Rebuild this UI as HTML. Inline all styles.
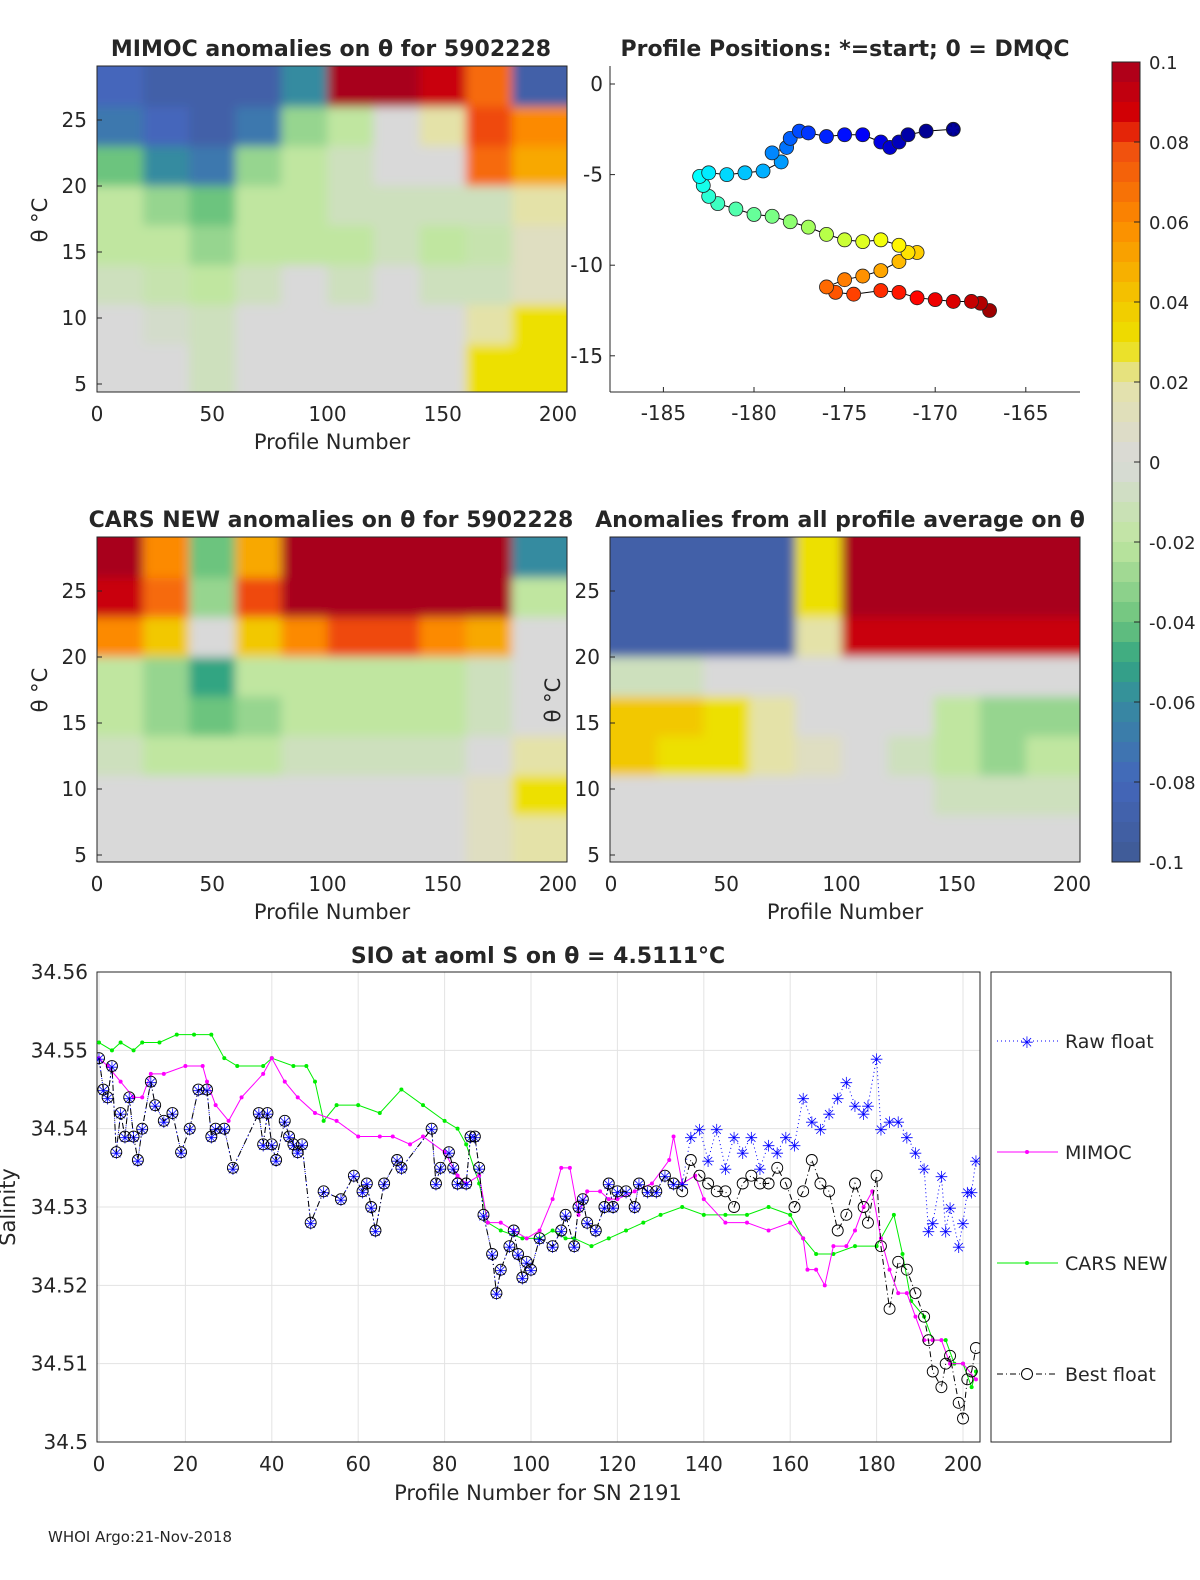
<!DOCTYPE html>
<html><head><meta charset="utf-8"><style>
body{margin:0;background:#fff}
svg text{font-family:"DejaVu Sans","Liberation Sans",sans-serif;fill:#262626}
</style></head><body>
<svg id="fig" width="1200" height="1575" viewBox="0 0 1200 1575" xmlns="http://www.w3.org/2000/svg">
<defs>
<clipPath id="c1"><rect x="97" y="66" width="470" height="326"/></clipPath>
<clipPath id="c3"><rect x="97" y="537" width="470" height="325"/></clipPath>
<clipPath id="c4"><rect x="610" y="537" width="470" height="325"/></clipPath>
<clipPath id="cb"><rect x="97" y="972" width="883" height="470"/></clipPath>
<filter id="blur" x="-10%" y="-10%" width="120%" height="120%"><feGaussianBlur stdDeviation="5"/></filter>
</defs>
<g id="root"></g>
<text x="48" y="1542" font-size="15">WHOI Argo:21-Nov-2018</text>
</svg>
<script>
// ---------- data ----------
const profileBlocks=[0,20,40,60,80,100,120,140,160,180,205];
const thetaBands=[29,26,23,20,17,14,11,8,5];
const mimocAnom=[
[-0.08,-0.09,-0.09,-0.09,-0.06,0.1,0.1,0.09,0.07,-0.09],
[-0.07,-0.08,-0.09,-0.07,-0.03,-0.02,0.0,0.02,0.08,0.06],
[-0.04,-0.06,-0.07,-0.03,-0.02,-0.01,0,0,0.07,0.05],
[-0.02,-0.03,-0.04,-0.02,-0.02,-0.01,-0.01,-0.01,-0.01,0.02],
[-0.02,-0.02,-0.03,-0.02,-0.02,-0.02,-0.01,-0.02,-0.015,0.01],
[-0.01,-0.015,-0.02,-0.01,0,-0.01,0,-0.01,-0.01,0.01],
[0,-0.005,-0.01,0,0,0,0,0,0.02,0.03],
[0,0,-0.01,0,0,0,0,0,0.03,0.03]];
const carsAnom=[
[0.1,0.06,-0.04,0.05,0.1,0.1,0.1,0.1,0.1,-0.06],
[0.09,0.07,-0.03,0.08,0.1,0.1,0.1,0.1,0.1,-0.02],
[0.06,0.04,0.0,0.04,0.06,0.08,0.08,0.06,0.05,0.0],
[-0.02,-0.03,-0.05,-0.02,-0.02,-0.02,-0.02,-0.02,-0.01,0.0],
[-0.02,-0.03,-0.04,-0.03,-0.02,-0.02,-0.02,-0.02,-0.01,0.0],
[-0.01,-0.02,-0.02,-0.02,-0.01,-0.01,-0.01,-0.01,0,0.02],
[0,0,0,0,0,0,0,0,0.01,0.03],
[0,0,0,0,0,0,0,0,0.01,0.02]];
const avgAnom=[
[-0.09,-0.09,-0.09,-0.09,0.03,0.1,0.1,0.1,0.1,0.1],
[-0.09,-0.09,-0.09,-0.09,0.03,0.1,0.1,0.1,0.1,0.1],
[-0.09,-0.09,-0.09,-0.09,0.02,0.09,0.09,0.09,0.09,0.09],
[-0.01,-0.01,0,0,0,0,0,0,0,0],
[0.04,0.04,0.03,0.02,0,0,0,-0.02,-0.03,-0.03],
[0.04,0.03,0.03,0.02,0.01,0,-0.01,-0.02,-0.03,-0.02],
[0,0,0,0,0,0,0,-0.01,-0.01,-0.01],
[0,0,0,0,0,0,0,0,0,0]];
const trackLon=[-169,-170.5,-171.5,-172,-172.5,-173,-174,-175,-176,-177,-177.5,-178,-178.2,-179,-178.5,-179.5,-180.5,-181.5,-182.5,-183,-182.8,-182.5,-182,-181,-180,-179,-178,-177,-176,-175,-174,-173,-172,-171.5,-171,-172,-173,-174,-175,-176,-175.5,-174.5,-173,-172,-171,-170,-169,-168,-167.5,-167];
const trackLat=[-2.5,-2.6,-2.8,-3.2,-3.5,-3.2,-2.8,-2.8,-2.9,-2.7,-2.6,-3,-3.5,-3.8,-4.3,-4.8,-4.9,-5,-4.9,-5.1,-5.6,-6.2,-6.6,-6.9,-7.2,-7.3,-7.6,-7.9,-8.3,-8.6,-8.7,-8.6,-8.9,-9.3,-9.3,-9.8,-10.3,-10.6,-10.8,-11.2,-11.5,-11.6,-11.4,-11.5,-11.8,-11.9,-12,-12,-12.1,-12.5];
const bestX=[0,1,2,3,4,5,6,7,8,9,10,12,13,15,17,19,21,23,25,26,27,29,31,37,38,39,40,41,43,44,45,46,47,49,52,56,59,61,62,63,64,66,69,70,77,78,79,81,82,83,85,86,87,88,89,91,92,93,95,96,97,98,99,100,102,105,107,108,110,111,112,113,115,117,118,119,120,122,124,125,127,129,131,133,135,137,139,141,143,145,147,149,151,153,155,157,159,161,163,165,167,169,171,173,175,177,178,180,181,183,185,187,189,191,192,193,195,196,197,199,200,201,202,203];
const bestS=[34.549,34.545,34.544,34.548,34.537,34.542,34.539,34.544,34.539,34.536,34.540,34.546,34.543,34.541,34.542,34.537,34.540,34.545,34.545,34.539,34.540,34.540,34.535,34.542,34.538,34.542,34.538,34.536,34.541,34.539,34.538,34.537,34.538,34.528,34.532,34.531,34.534,34.532,34.533,34.530,34.527,34.533,34.536,34.535,34.540,34.533,34.535,34.537,34.535,34.533,34.533,34.539,34.539,34.535,34.529,34.524,34.519,34.522,34.525,34.527,34.524,34.521,34.523,34.522,34.526,34.525,34.527,34.529,34.525,34.530,34.531,34.528,34.527,34.530,34.533,34.530,34.532,34.532,34.530,34.533,34.532,34.532,34.534,34.533,34.532,34.536,34.534,34.533,34.532,34.532,34.530,34.533,34.534,34.533,34.533,34.535,34.533,34.530,34.532,34.536,34.533,34.532,34.527,34.529,34.533,34.530,34.528,34.534,34.525,34.517,34.523,34.522,34.519,34.516,34.513,34.509,34.507,34.510,34.511,34.505,34.503,34.508,34.509,34.512];
const rawS=[34.549,34.545,34.544,34.548,34.537,34.542,34.539,34.544,34.539,34.536,34.540,34.546,34.543,34.541,34.542,34.537,34.540,34.545,34.545,34.539,34.540,34.540,34.535,34.542,34.538,34.542,34.538,34.536,34.541,34.539,34.538,34.537,34.538,34.528,34.532,34.531,34.534,34.532,34.533,34.530,34.527,34.533,34.536,34.535,34.540,34.533,34.535,34.537,34.535,34.533,34.533,34.539,34.539,34.535,34.529,34.524,34.519,34.522,34.525,34.527,34.524,34.521,34.523,34.522,34.526,34.525,34.527,34.529,34.525,34.530,34.531,34.528,34.527,34.530,34.533,34.530,34.532,34.532,34.530,34.533,34.532,34.532,34.534,34.533,34.533,34.539,34.540,34.536,34.540,34.535,34.539,34.537,34.539,34.535,34.538,34.537,34.539,34.538,34.544,34.541,34.540,34.542,34.544,34.546,34.543,34.542,34.543,34.549,34.540,34.541,34.541,34.539,34.537,34.535,34.527,34.528,34.534,34.527,34.530,34.525,34.528,34.532,34.532,34.536];
const mimocX=[0,2,5,8,10,12,15,20,24,25,27,30,33,38,40,43,46,50,55,60,65,68,72,75,80,83,85,88,90,93,96,99,102,105,107,109,111,113,116,118,120,124,128,132,133,135,138,140,145,150,155,160,163,164,166,168,170,173,175,177,179,181,183,185,187,189,191,193,195,197,200,203];
const mimocS=[34.549,34.548,34.546,34.544,34.544,34.547,34.547,34.548,34.548,34.546,34.543,34.541,34.544,34.547,34.549,34.546,34.544,34.542,34.541,34.539,34.539,34.539,34.538,34.539,34.537,34.534,34.533,34.534,34.528,34.528,34.527,34.526,34.527,34.531,34.535,34.535,34.529,34.532,34.532,34.531,34.531,34.532,34.533,34.536,34.539,34.533,34.534,34.531,34.528,34.528,34.527,34.528,34.526,34.522,34.522,34.520,34.525,34.525,34.527,34.530,34.532,34.526,34.522,34.519,34.519,34.516,34.513,34.513,34.513,34.510,34.510,34.508];
const carsX=[0,3,5,8,10,14,18,22,26,29,32,38,40,45,48,50,52,55,60,65,70,75,80,83,85,88,90,93,98,102,105,108,110,114,118,122,126,130,135,140,145,150,155,160,163,166,170,175,180,184,186,188,191,193,196,198,200,202,203];
const carsS=[34.551,34.550,34.551,34.550,34.551,34.551,34.552,34.552,34.552,34.549,34.548,34.548,34.549,34.548,34.548,34.546,34.541,34.543,34.543,34.542,34.545,34.543,34.541,34.540,34.538,34.533,34.528,34.527,34.526,34.526,34.527,34.526,34.526,34.525,34.526,34.527,34.528,34.529,34.530,34.529,34.529,34.529,34.530,34.529,34.526,34.524,34.524,34.525,34.525,34.529,34.524,34.518,34.516,34.513,34.513,34.510,34.510,34.507,34.509];
const salTicks=[34.5,34.51,34.52,34.53,34.54,34.55,34.56];
const salTickLabels=['34.5','34.51','34.52','34.53','34.54','34.55','34.56'];
const profTicks=[0,20,40,60,80,100,120,140,160,180,200];

// ---------- helpers ----------
const NS='http://www.w3.org/2000/svg';
const root=document.getElementById('root');
function mk(tag,attrs,parent){const e=document.createElementNS(NS,tag);for(const k in attrs)e.setAttribute(k,attrs[k]);(parent||root).appendChild(e);return e;}
function txt(x,y,s,size,anchor,parent,weight){const t=mk('text',{x:x,y:y,'font-size':size,'text-anchor':anchor||'start'},parent);if(weight)t.setAttribute('font-weight',weight);t.textContent=s;return t;}
const stops=[[-0.1,[63,90,148]],[-0.08,[68,102,187]],[-0.06,[54,139,160]],[-0.05,[51,165,130]],[-0.04,[108,196,126]],[-0.02,[192,230,160]],[0,[217,217,217]],[0.02,[228,226,168]],[0.03,[237,224,0]],[0.04,[242,200,0]],[0.05,[248,168,0]],[0.06,[252,138,0]],[0.08,[239,74,16]],[0.085,[217,0,0]],[0.1,[168,0,30]]];
function cmap(v){v=Math.max(-0.1,Math.min(0.1,v));for(let i=1;i<stops.length;i++){if(v<=stops[i][0]){const a=stops[i-1],b=stops[i];const t=(v-a[0])/(b[0]-a[0]);const c=a[1].map((q,j)=>Math.round(q+(b[1][j]-q)*t));return 'rgb('+c.join(',')+')';}}return 'rgb(168,0,30)';}
function jet(t){const r=Math.min(1,Math.max(0,1.5-Math.abs(4*t-3))),g=Math.min(1,Math.max(0,1.5-Math.abs(4*t-2))),b=Math.min(1,Math.max(0,1.5-Math.abs(4*t-1)));return 'rgb('+[r,g,b].map(q=>Math.round(q*255)).join(',')+')';}

// ---------- heatmap panels ----------
function heat(ax,data,name,clip){
  const outer=mk('g',{'clip-path':'url(#'+clip+')'});
  
  
  const g=mk('g',{filter:'url(#blur)'},outer);
  const sx=p=>ax.x0+(p-0)*ax.kx, sy=t=>ax.y25+(25-t)*ax.ky;
  const nr=data.length, nc=data[0].length;
  for(let r=0;r<nr;r++)for(let c=0;c<nc;c++){
    let x1=sx(profileBlocks[c]),x2=sx(profileBlocks[c+1]),y1=sy(thetaBands[r]),y2=sy(thetaBands[r+1]);
    if(c===0)x1-=25; if(c===nc-1)x2+=25; if(r===0)y1-=25; if(r===nr-1)y2+=25;
    const cell=mk('rect',{x:x1,y:y1,width:x2-x1+0.5,height:y2-y1+0.5,fill:cmap(data[r][c])},g);
    
    
  }
  mk('rect',{x:ax.L,y:ax.T,width:470,height:ax.H,fill:'none',stroke:'#262626','stroke-width':1});
  [0,50,100,150,200].forEach(p=>{txt(sx(p),ax.T+ax.H+29,String(p),20,'middle');});
  [5,10,15,20,25].forEach(t=>{txt(ax.L-10,sy(t)+7,String(t),20,'end');mk('line',{x1:ax.L,x2:ax.L+5,y1:sy(t),y2:sy(t),stroke:'#262626'});});
  txt(ax.L+235,ax.T+ax.H+57,'Profile Number',21,'middle');
}
heat({L:97,T:66,H:326,x0:97,kx:2.305,y25:120,ky:13.2},mimocAnom,'mimoc','c1');
heat({L:97,T:537,H:325,x0:97,kx:2.305,y25:591,ky:13.2},carsAnom,'cars','c3');
heat({L:610,T:537,H:325,x0:611,kx:2.305,y25:591,ky:13.2},avgAnom,'profile-average','c4');
txt(331,56,'MIMOC anomalies on θ  for 5902228',22,'middle',null,'bold');
txt(331,527,'CARS NEW anomalies on θ for 5902228',22,'middle',null,'bold');
txt(840,527,'Anomalies from all profile average on θ',22,'middle',null,'bold');
let yl=txt(0,0,'θ °C',21,'middle');yl.setAttribute('transform','translate(47,220) rotate(-90)');
yl=txt(0,0,'θ °C',21,'middle');yl.setAttribute('transform','translate(47,690) rotate(-90)');
yl=txt(0,0,'θ °C',21,'middle');yl.setAttribute('transform','translate(560,700) rotate(-90)');

// ---------- positions ----------
const lx=v=>754+(v+180)*18.12, ly=v=>84-v*18.12;
mk('line',{x1:610,y1:66,x2:610,y2:392,stroke:'#262626'});
mk('line',{x1:610,y1:392,x2:1080,y2:392,stroke:'#262626'});
[-185,-180,-175,-170,-165].forEach(v=>{txt(lx(v),420,String(v),20,'middle');mk('line',{x1:lx(v),x2:lx(v),y1:392,y2:387,stroke:'#262626'});});
[0,-5,-10,-15].forEach(v=>{txt(603,ly(v)+7,String(v),20,'end');mk('line',{x1:610,x2:615,y1:ly(v),y2:ly(v),stroke:'#262626'});});
txt(845,56,'Profile Positions: *=start; 0 = DMQC',22,'middle',null,'bold');
mk('polyline',{points:trackLon.map((v,i)=>lx(v)+','+ly(trackLat[i])).join(' '),fill:'none',stroke:'#000','stroke-width':1});
for(let i=trackLon.length-1;i>=0;i--){
  const c=mk('circle',{cx:lx(trackLon[i]),cy:ly(trackLat[i]),r:7,fill:jet(i/(trackLon.length-1)*0.97),stroke:'#222','stroke-width':0.8});
  
  
}
txt(lx(trackLon[0]),ly(trackLat[0])+6,'✱',16,'middle').setAttribute('style','fill:#0000a0');

// ---------- colorbar ----------
for(let i=0;i<40;i++){const v=0.1-(i+0.5)*0.005;mk('rect',{x:1112,y:62+i*20,width:28,height:20.5,fill:cmap(v)});}
mk('rect',{x:1112,y:62,width:28,height:800,fill:'none',stroke:'#262626'});
[0.1,0.08,0.06,0.04,0.02,0,-0.02,-0.04,-0.06,-0.08,-0.1].forEach((v,i)=>{const y=62+i*80;txt(1149,y+7,String(v),18,'start');mk('line',{x1:1134,x2:1140,y1:y,y2:y,stroke:'#262626'});});

// ---------- bottom salinity plot ----------
const bx=p=>99+p*4.32, by=s=>1442-(s-34.5)*7833;
const gb=mk('g',{});
profTicks.forEach(p=>{mk('line',{x1:bx(p),x2:bx(p),y1:972,y2:1442,stroke:'#e3e3e3'},gb);txt(bx(p),1471,String(p),20,'middle');});
salTicks.forEach((s,i)=>{mk('line',{x1:97,x2:980,y1:by(s),y2:by(s),stroke:'#e3e3e3'},gb);txt(88,by(s)+7,salTickLabels[i],20,'end');});
mk('rect',{x:97,y:972,width:883,height:470,fill:'none',stroke:'#262626'});
txt(538,1500,'Profile Number for SN 2191',21,'middle');
yl=txt(0,0,'Salinity',21,'middle');yl.setAttribute('transform','translate(15,1207) rotate(-90)');
txt(538,963,'SIO at aoml S on θ = 4.5111°C',22,'middle',null,'bold');
const gs=mk('g',{'clip-path':'url(#cb)'});
function series(xs,ys,color,dash,name){
  const l=mk('polyline',{points:xs.map((x,i)=>bx(x)+','+by(ys[i])).join(' '),fill:'none',stroke:color,'stroke-width':1,'stroke-dasharray':dash||'none'},gs);
  
  
}
series(carsX,carsS,'#00ee00','','cars-new');
carsX.forEach((x,i)=>mk('circle',{cx:bx(x),cy:by(carsS[i]),r:2,fill:'#00ee00'},gs));
series(mimocX,mimocS,'#ff00ff','','mimoc');
mimocX.forEach((x,i)=>mk('circle',{cx:bx(x),cy:by(mimocS[i]),r:2,fill:'#ff00ff'},gs));
series(bestX,rawS,'#0000ff','1,3','raw-float');
bestX.forEach((x,i)=>{const m=txt(bx(x),by(rawS[i])+7,'✳',16,'middle',gs);m.setAttribute('style','fill:#0000ff');});
series(bestX,bestS,'#000','6,3,1,3','best-float');
bestX.forEach((x,i)=>{const c=mk('circle',{cx:bx(x),cy:by(bestS[i]),r:5.5,fill:'none',stroke:'#000','stroke-width':0.9},gs);});

// legend
const lg=mk('g',{});


mk('rect',{x:991,y:972,width:180,height:470,fill:'#fff',stroke:'#262626'},lg);
mk('line',{x1:997,x2:1058,y1:1041,y2:1041,stroke:'#0000ff','stroke-dasharray':'1,3'},lg);
txt(1027,1048,'✳',16,'middle',lg).setAttribute('style','fill:#0000ff');
txt(1065,1048,'Raw float',19,'start',lg);
mk('line',{x1:997,x2:1058,y1:1152,y2:1152,stroke:'#ff00ff'},lg);
mk('circle',{cx:1027,cy:1152,r:2,fill:'#ff00ff'},lg);
txt(1065,1159,'MIMOC',19,'start',lg);
mk('line',{x1:997,x2:1058,y1:1263,y2:1263,stroke:'#00ee00'},lg);
mk('circle',{cx:1027,cy:1263,r:2,fill:'#00ee00'},lg);
txt(1065,1270,'CARS NEW',19,'start',lg);
mk('line',{x1:997,x2:1058,y1:1374,y2:1374,stroke:'#000','stroke-dasharray':'6,3,1,3'},lg);
mk('circle',{cx:1027,cy:1374,r:5.5,fill:'#fff',stroke:'#000'},lg);
txt(1065,1381,'Best float',19,'start',lg);
</script>
</body></html>
